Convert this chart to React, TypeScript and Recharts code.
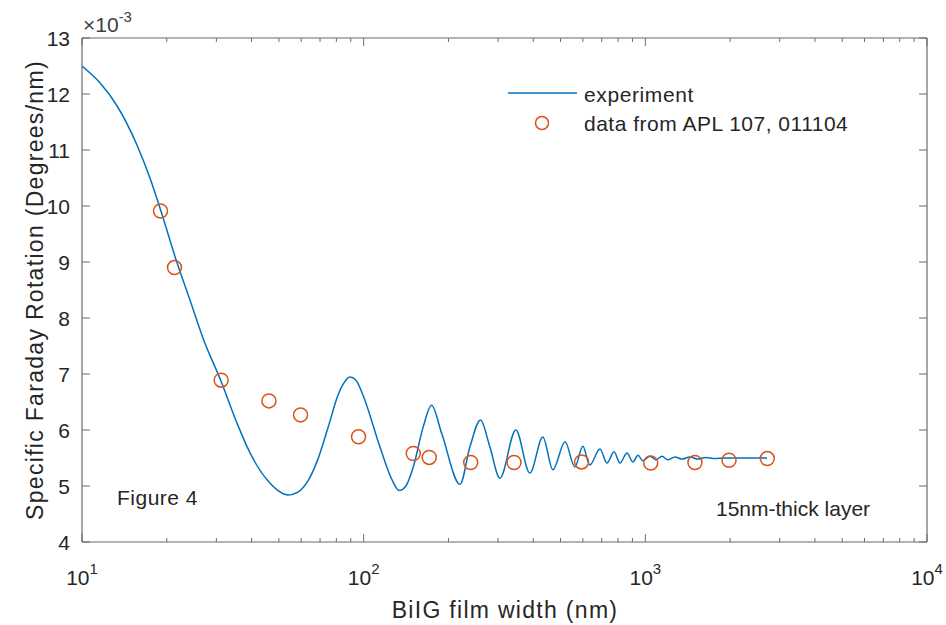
import React from 'react';
import { ComposedChart, Line, Scatter, XAxis, YAxis, Legend } from 'recharts';

// simulated curve, x = film width in nm, y = rotation x1e-3
const experimentWidth = [
  10, 11.58, 13.31, 15.67, 17.43, 19.07, 21.57, 24.17, 26.89, 31.14, 35.5, 39.5, 45.4, 54.0,
  58.45, 63.4, 68.8, 74.7, 81.1, 85.1, 89.3, 93.9, 99.4, 114.2, 126.1, 133.6, 141.3,
  150, 162.8, 174.2, 189.2, 219.8, 238.4,
  260.0, 280.5, 304.6, 346.9, 389, 432.7, 469.6, 518.8, 562, 600, 635, 690, 731, 774,
  813, 861, 903, 942, 980, 1038, 1091, 1146, 1203, 1274, 1349, 1439, 1538, 1641, 1766,
  1917, 2704,
];
const experimentRotation = [
  12.5, 12.2, 11.79, 11.09, 10.5, 9.91, 9.04, 8.32, 7.64, 6.875, 6.125, 5.59, 5.11, 4.84,
  4.89, 5.09, 5.48, 6.04, 6.625, 6.84, 6.946, 6.89, 6.625, 5.7, 5.11, 4.92, 5.0,
  5.34, 6.06, 6.44, 5.94, 5.03, 5.7,
  6.18, 5.7, 5.14, 6.0, 5.23, 5.875, 5.29, 5.79, 5.34, 5.71, 5.375, 5.66, 5.41, 5.61,
  5.41, 5.59, 5.43, 5.55, 5.45, 5.53, 5.47, 5.53, 5.47, 5.52, 5.48, 5.52, 5.48, 5.51, 5.49,
  5.5, 5.5,
];

// APL 107, 011104 points
const aplWidth = [19.0, 21.3, 31.2, 46.1, 59.7, 95.9, 150, 170.9, 239.9, 341.8, 594, 1045, 1500, 1982, 2710];
const aplRotation = [9.91, 8.9, 6.89, 6.52, 6.27, 5.88, 5.58, 5.51, 5.42, 5.42, 5.43, 5.41, 5.42, 5.46, 5.49];

const xTicks = [
  10, 20, 30, 40, 50, 60, 70, 80, 90,
  100, 200, 300, 400, 500, 600, 700, 800, 900,
  1000, 2000, 3000, 4000, 5000, 6000, 7000, 8000, 9000, 10000,
];
const yTicks = [4, 5, 6, 7, 8, 9, 10, 11, 12, 13];

const BLUE = '#0072BD';
const ORANGE = '#D95319';
const AXIS = '#6b6b6b';
const TEXT = '#262626';
const FONT = '"Liberation Sans", Arial, sans-serif';

const experimentData = experimentWidth.map((x, i) => ({ x, y: experimentRotation[i] }));
const aplData = aplWidth.map((x, i) => ({ x, y: aplRotation[i] }));

const isMajor = (v: number) => {
  const e = Math.log10(v);
  return Math.abs(e - Math.round(e)) < 1e-6;
};

const BottomTick = ({ x, y, payload }: any) => {
  const v = payload.value;
  const major = isMajor(v);
  return (
    <g>
      <line x1={x} x2={x} y1={y} y2={y - (major ? 8 : 4)} stroke={AXIS} />
      {major && (
        <text x={x} y={y + 43} textAnchor="middle" fontSize={21} fill={TEXT} fontFamily={FONT}>
          <tspan>10</tspan>
          <tspan dy={-11} fontSize={15}>{Math.round(Math.log10(v))}</tspan>
        </text>
      )}
    </g>
  );
};

const TopTick = ({ x, y, payload }: any) => (
  <line x1={x} x2={x} y1={y} y2={y + (isMajor(payload.value) ? 8 : 4)} stroke={AXIS} />
);

const LeftTick = ({ x, y, payload }: any) => (
  <g>
    <line x1={x} x2={x + 8} y1={y} y2={y} stroke={AXIS} />
    <text x={x - 12} y={y + 7.5} textAnchor="end" fontSize={21} fill={TEXT} fontFamily={FONT}>
      {payload.value}
    </text>
  </g>
);

const RightTick = ({ x, y }: any) => <line x1={x} x2={x - 8} y1={y} y2={y} stroke={AXIS} />;

const Ring = ({ cx, cy }: any) => (
  <circle cx={cx} cy={cy} r={7} fill="none" stroke={ORANGE} strokeWidth={1.5} />
);

const LegendBox = () => (
  <svg width={360} height={70} style={{ fontFamily: FONT }}>
    <line x1={8} x2={77} y1={18} y2={18} stroke={BLUE} strokeWidth={1.5} />
    <text x={84} y={27} fontSize={21} fill={TEXT} letterSpacing={0.6}>experiment</text>
    <circle cx={42} cy={48} r={6.5} fill="none" stroke={ORANGE} strokeWidth={1.5} />
    <text x={84} y={56} fontSize={21} fill={TEXT} letterSpacing={0.5}>data from APL 107, 011104</text>
  </svg>
);

export default function App() {
  return (
    <div style={{ position: 'absolute', left: 0, top: 0, width: 946, height: 625, background: '#fff' }}>
      <ComposedChart
        width={946}
        height={625}
        margin={{ top: 37, right: 18, bottom: 82, left: 81 }}
      >
        <XAxis
          dataKey="x"
          type="number"
          scale="log"
          domain={[10, 10000]}
          allowDataOverflow
          ticks={xTicks}
          interval={0}
          height={1}
          tickSize={0}
          tickMargin={0}
          tickLine={false}
          tick={<BottomTick />}
          axisLine={{ stroke: AXIS, strokeWidth: 1.2 }}
        />
        <XAxis
          xAxisId="top"
          orientation="top"
          dataKey="x"
          type="number"
          scale="log"
          domain={[10, 10000]}
          allowDataOverflow
          ticks={xTicks}
          interval={0}
          height={1}
          tickSize={0}
          tickMargin={0}
          tickLine={false}
          tick={<TopTick />}
          axisLine={{ stroke: AXIS, strokeWidth: 1.2 }}
        />
        <YAxis
          dataKey="y"
          type="number"
          domain={[4, 13]}
          allowDataOverflow
          ticks={yTicks}
          interval={0}
          width={1}
          tickSize={0}
          tickMargin={0}
          tickLine={false}
          tick={<LeftTick />}
          axisLine={{ stroke: AXIS, strokeWidth: 1.2 }}
        />
        <YAxis
          yAxisId="right"
          orientation="right"
          dataKey="y"
          type="number"
          domain={[4, 13]}
          allowDataOverflow
          ticks={yTicks}
          interval={0}
          width={1}
          tickSize={0}
          tickMargin={0}
          tickLine={false}
          tick={<RightTick />}
          axisLine={{ stroke: AXIS, strokeWidth: 1.2 }}
        />
        <Line
          data={experimentData}
          dataKey="y"
          type="monotone"
          stroke={BLUE}
          strokeWidth={1.5}
          dot={false}
          activeDot={false}
          isAnimationActive={false}
        />
        <Scatter data={aplData} dataKey="y" shape={<Ring />} isAnimationActive={false} />
        <Legend
          layout="horizontal"
          verticalAlign="middle"
          content={<LegendBox />}
          wrapperStyle={{ position: 'absolute', left: 500, top: 75, width: 360, height: 70 }}
        />
      </ComposedChart>

      <svg
        width={946}
        height={625}
        style={{ position: 'absolute', left: 0, top: 0, pointerEvents: 'none', fontFamily: FONT }}
      >
        <text x={83} y={32} fontSize={21} fill="#404040">
          <tspan>×10</tspan>
          <tspan dy={-10} fontSize={15}>-3</tspan>
        </text>
        <text
          transform="translate(43,290) rotate(-90)"
          textAnchor="middle"
          fontSize={23}
          letterSpacing={1.3}
          fill={TEXT}
        >
          Specific Faraday Rotation (Degrees/nm)
        </text>
        <text x={505} y={618} textAnchor="middle" fontSize={23} letterSpacing={1.3} fill={TEXT}>
          BiIG film width (nm)
        </text>
        <text x={117} y={505} fontSize={21} letterSpacing={0.5} fill={TEXT}>Figure 4</text>
        <text x={716} y={516} fontSize={21} fill={TEXT}>15nm-thick layer</text>
      </svg>
    </div>
  );
}
